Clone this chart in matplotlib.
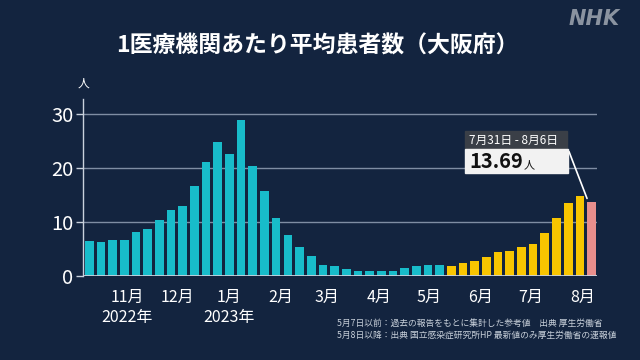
import pandas as pd
import matplotlib.pyplot as plt
from matplotlib.patches import Rectangle

plt.rcParams['font.family'] = ['Noto Sans CJK JP', 'DejaVu Sans']

# weekly average patients per medical institution (Osaka)
week_start = pd.date_range("2022-10-03", periods=44, freq="7D")
patients = [6.5, 6.3, 6.6, 6.7, 8.1, 8.8, 10.4, 12.2, 12.9, 16.7,
            21.1, 24.8, 22.7, 28.9, 20.3, 15.8, 10.7, 7.6, 5.4, 3.7,
            2.0, 1.9, 1.3, 1.0, 0.93, 0.93, 1.0, 1.5, 1.8, 2.0,
            2.0, 1.85, 2.5, 2.8, 3.5, 4.4, 4.7, 5.3, 6.0, 8.0,
            10.7, 13.6, 14.8, 13.69]
month_starts = pd.to_datetime(["2022-11-01", "2022-12-01", "2023-01-01", "2023-02-01",
                               "2023-03-01", "2023-04-01", "2023-05-01", "2023-06-01",
                               "2023-07-01", "2023-08-01"])
month_labels = ["11月", "12月", "1月", "2月", "3月", "4月", "5月", "6月", "7月", "8月"]
year_labels = {"2022-11-01": "2022年", "2023-01-01": "2023年"}
switch_date = pd.Timestamp("2023-05-08")
yticks = [0, 10, 20, 30]

bg = "#13243f"
teal = "#18bcca"
yellow = "#f8c500"
pink = "#e88e8c"

W, H = 640, 360


def fx(px):
    return px / W


def fy(py):
    return 1 - py / H


fig = plt.figure(figsize=(6.4, 3.6), dpi=100, facecolor=bg)
ax = fig.add_axes([fx(83.3), fy(276), (596.8 - 83.3) / W, (276 - 99) / H])
ax.set_facecolor(bg)

x = list(range(len(patients)))
colors = [teal if d < switch_date else yellow for d in week_start]
colors[-1] = pink
ax.bar(x, patients, width=0.74, color=colors, zorder=3)

ax.set_xlim(-0.51, 43.45)
ax.set_ylim(0, 32.8)

# grid + axes
for v in yticks[1:]:
    ax.axhline(v, color="#7f8da3", lw=1, zorder=1)
ax.axhline(0, color="#c9d1dc", lw=1.3, zorder=4)
for s in ["top", "right", "bottom"]:
    ax.spines[s].set_visible(False)
ax.spines["left"].set_color("#c9d1dc")
ax.spines["left"].set_linewidth(1)

ax.set_yticks(yticks)
ax.tick_params(axis="y", colors="white", labelsize=14.5, length=5, width=1, pad=2)
ax.tick_params(axis="y", color="#c9d1dc")

# month ticks placed by date
pos = [(d - week_start[0]).days / 7 - 0.9 for d in month_starts]
ax.set_xticks(pos)
ax.set_xticklabels(month_labels)
ax.tick_params(axis="x", length=0, colors="white", labelsize=11.5, pad=9)
for d, p in zip(month_starts, pos):
    key = d.strftime("%Y-%m-%d")
    if key in year_labels:
        ax.text(p, -0.235, year_labels[key], transform=ax.get_xaxis_transform(),
                ha="center", va="center", color="white", fontsize=11.5)

fig.text(fx(83), fy(83), "人", color="white", fontsize=8.5, ha="center", va="center")

# title and logo
fig.text(fx(317), fy(46), "1医療機関あたり平均患者数（大阪府）", color="white",
         fontsize=16.5, fontweight="bold", ha="center", va="center")
fig.text(fx(594), fy(19), "NHK", color="#8a93a0", fontsize=15, fontweight="heavy",
         style="italic", ha="center", va="center", family="DejaVu Sans")

# tooltip for latest week
fig.add_artist(Rectangle((fx(465), fy(149)), (567 - 465) / W, 18 / H,
                         transform=fig.transFigure, color="#3a3f47", zorder=5))
fig.add_artist(Rectangle((fx(465), fy(173)), (568 - 465) / W, 24 / H,
                         transform=fig.transFigure, color="#f2f2f2", zorder=5))
fig.text(fx(469), fy(140), "7月31日 - 8月6日", color="white", fontsize=8.5,
         va="center", ha="left", zorder=6)
fig.text(fx(469), fy(162), "13.69", color="#111111", fontsize=14.5, fontweight="bold",
         va="center", ha="left", zorder=6)
fig.text(fx(524), fy(165), "人", color="#111111", fontsize=8, va="center", ha="left", zorder=6)
ax.annotate("", xy=(x[-1] - 0.3, patients[-1] + 0.2), xycoords="data",
            xytext=(fx(568), fy(149)), textcoords="figure fraction",
            arrowprops=dict(arrowstyle="-", color="white", lw=1.2), zorder=6)

# notes
fig.text(fx(337), fy(323), "5月7日以前：過去の報告をもとに集計した参考値　出典 厚生労働省",
         color="#c8d0da", fontsize=6.3, ha="left", va="center")
fig.text(fx(337), fy(335), "5月8日以降：出典 国立感染症研究所HP 最新値のみ厚生労働省の速報値",
         color="#c8d0da", fontsize=6.3, ha="left", va="center")

fig.savefig("out.png", dpi=100, facecolor=bg)
